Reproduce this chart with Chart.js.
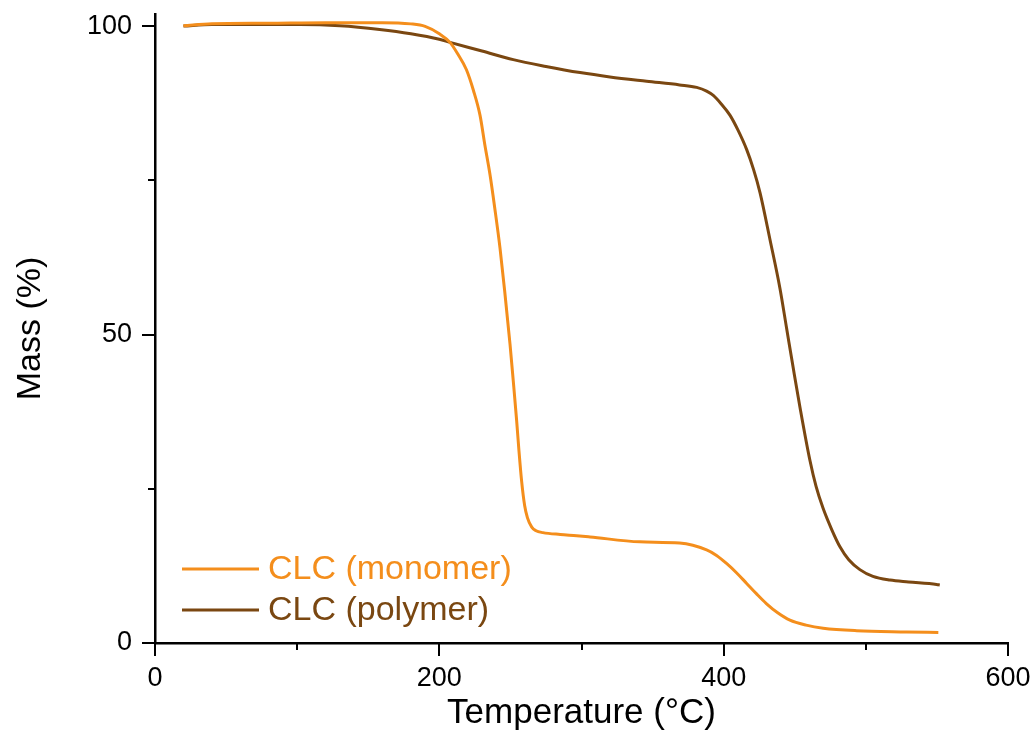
<!DOCTYPE html>
<html>
<head>
<meta charset="utf-8">
<script src="https://cdn.jsdelivr.net/npm/chart.js@4"></script>
<style>
html,body{margin:0;padding:0;background:#fff;}
#wrap{width:1031px;height:753px;position:relative;}
</style>
</head>
<body>
<div id="wrap"><canvas id="c" width="1031" height="753"></canvas></div>
<script>
// ---- data ----
const monoLabel = 'CLC (monomer)';
const polyLabel = 'CLC (polymer)';

const monoT = [20,40,80,120,160,180,190,200,207.5,213,219,224,228.6,232,235.6,239,242.7,246,249.7,252,254.4,256,257.9,260,262,265,268,272.9,285,296.6,306,341,369,388,395,402,409,416,423,430,438,446.6,458,470,493.5,528.6,551];
const monoMass = [100.1,100.4,100.5,100.6,100.6,100.4,100.0,98.8,97.4,95.5,93.0,89.6,85.6,80.8,76.0,70.5,64.0,57.0,48.5,42.5,36.0,31.2,26.2,22.3,20.3,18.8,18.2,17.9,17.6,17.4,17.2,16.4,16.2,15.1,14.2,12.9,11.4,9.7,8.0,6.4,4.9,3.7,2.9,2.4,2.0,1.8,1.7];

const polyT = [20,40,80,102,130,158,180,200,207.5,230,252,275,299,320,345.8,369,381,388,392.7,398,404.4,410,416.2,421,425.6,432.6,439.6,444.3,449,453.7,460.7,465,470,476,481.8,488,495.8,505,517,530,549.8,552];
const polyMass = [100.05,100.3,100.3,100.3,100.1,99.5,98.8,97.9,97.4,96.0,94.6,93.5,92.5,91.8,91.1,90.5,90.1,89.5,88.8,87.5,85.6,83.2,80.0,76.8,73.0,65.4,57.5,51.0,44.5,38.2,29.6,25.4,21.8,18.4,15.6,13.5,11.9,10.8,10.2,9.9,9.5,9.4];

const xTicks = [0,100,200,300,400,500,600];
const xTickLabels = ['0','','200','','400','','600'];
const yTicks = [0,25,50,75,100];
const yTickLabels = ['0','','50','','100'];

const monoColor = '#F48E1C';
const polyColor = '#7A4711';
const FONT = "'Liberation Sans', Arial, sans-serif";

const toXY = (xs, ys) => xs.map((x, i) => ({x: x, y: ys[i]}));

// tick marks (major longer than minor), drawn through the scales
const tickPlugin = {
  id: 'tickMarks',
  afterDraw(chart) {
    const ctx = chart.ctx;
    const xs = chart.scales.x, ys = chart.scales.y;
    ctx.save();
    ctx.strokeStyle = '#000';
    ctx.lineWidth = 2;
    xTicks.forEach((v, i) => {
      const px = Math.round(xs.getPixelForValue(v));
      const len = xTickLabels[i] ? 13 : 7;
      ctx.beginPath();
      ctx.moveTo(px, ys.bottom);
      ctx.lineTo(px, ys.bottom + len);
      ctx.stroke();
    });
    yTicks.forEach((v, i) => {
      const py = Math.round(ys.getPixelForValue(v));
      const len = yTickLabels[i] ? 13 : 7;
      ctx.beginPath();
      ctx.moveTo(xs.left, py);
      ctx.lineTo(xs.left - len, py);
      ctx.stroke();
    });
    ctx.restore();
  }
};

// in-plot legend, bottom left, text in series colour
const legendPlugin = {
  id: 'inLegend',
  afterDraw(chart) {
    const ctx = chart.ctx;
    const a = chart.chartArea;
    ctx.save();
    ctx.font = '34px ' + FONT;
    ctx.textBaseline = 'middle';
    ctx.textAlign = 'left';
    chart.data.datasets.forEach((ds, i) => {
      const y = a.bottom - 74 + i * 41;
      const x0 = a.left + 27;
      ctx.strokeStyle = ds.borderColor;
      ctx.lineWidth = 3;
      ctx.beginPath();
      ctx.moveTo(x0, y);
      ctx.lineTo(x0 + 77, y);
      ctx.stroke();
      ctx.fillStyle = ds.borderColor;
      ctx.fillText(ds.label, x0 + 86, y + 1);
    });
    ctx.restore();
  }
};

new Chart(document.getElementById('c'), {
  type: 'line',
  data: {
    datasets: [
      {label: monoLabel, data: toXY(monoT, monoMass), borderColor: monoColor, borderWidth: 3, pointRadius: 0, cubicInterpolationMode: 'monotone', fill: false},
      {label: polyLabel, data: toXY(polyT, polyMass), borderColor: polyColor, borderWidth: 3, pointRadius: 0, cubicInterpolationMode: 'monotone', fill: false}
    ]
  },
  options: {
    responsive: false,
    animation: false,
    layout: {padding: {top: 14, right: 23, left: 0, bottom: 0}},
    plugins: {legend: {display: false}, tooltip: {enabled: false}},
    scales: {
      x: {
        type: 'linear', min: 0, max: 600,
        afterBuildTicks: s => { s.ticks = xTicks.map(v => ({value: v})); },
        afterFit: s => { s.height = 110; s.paddingLeft = 0; s.paddingRight = 0; },
        grid: {display: false, drawTicks: false},
        border: {display: true, color: '#000', width: 2.5},
        ticks: {
          autoSkip: false, maxRotation: 0, padding: 19, color: '#000',
          font: {family: FONT, size: 27},
          callback: (v) => { const i = xTicks.indexOf(v); return i >= 0 ? xTickLabels[i] : ''; }
        },
        title: {display: true, text: 'Temperature (°C)', color: '#000', font: {family: FONT, size: 35}, padding: {top: 0, bottom: 19}}
      },
      y: {
        type: 'linear', min: 0, max: 102,
        afterBuildTicks: s => { s.ticks = yTicks.map(v => ({value: v})); },
        afterFit: s => { s.width = 155; s.paddingTop = 0; s.paddingBottom = 0; },
        grid: {display: false, drawTicks: false},
        border: {display: true, color: '#000', width: 2.5},
        ticks: {
          autoSkip: false, padding: 23, color: '#000',
          font: {family: FONT, size: 27},
          callback: (v) => { const i = yTicks.indexOf(v); return i >= 0 ? yTickLabels[i] : ''; }
        },
        title: {display: true, text: 'Mass (%)', color: '#000', font: {family: FONT, size: 34}, padding: {top: 10, bottom: 0}}
      }
    }
  },
  plugins: [tickPlugin, legendPlugin]
});
</script>
</body>
</html>
